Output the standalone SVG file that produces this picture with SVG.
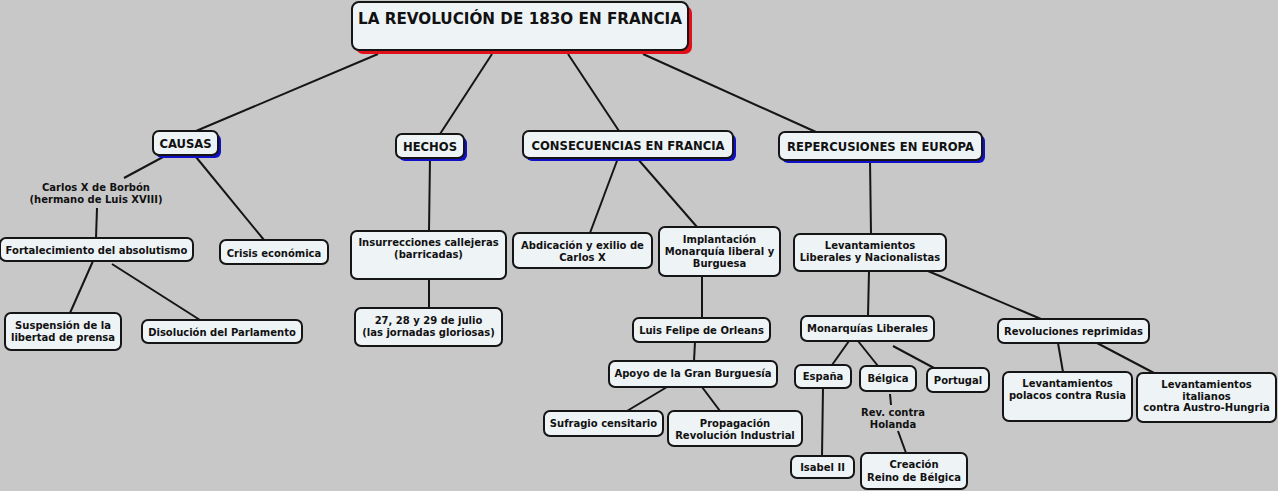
<svg xmlns="http://www.w3.org/2000/svg" width="1278" height="491" viewBox="0 0 1278 491">
<style>
.bg{fill:#c8c8c8}
.n{fill:#eef3f6;stroke:#151515;stroke-width:2}
.sb{fill:#1010c8}
.sr{fill:#e0101a}
text{font-family:"DejaVu Sans","Liberation Sans",sans-serif;font-weight:bold;font-size:10px;fill:#111;text-anchor:middle}
.t{font-size:15.2px}
.h{font-size:11.6px}
.c line{stroke:#151515;stroke-width:2}
</style>
<rect class="bg" x="0" y="0" width="1278" height="491"/>
<g class="c" id="connectors">
<line x1="378" y1="54" x2="196" y2="131"/>
<line x1="492" y1="54" x2="440" y2="134"/>
<line x1="568" y1="54" x2="619" y2="131"/>
<line x1="643" y1="54" x2="816" y2="132"/>
<line x1="163" y1="157" x2="124" y2="178"/>
<line x1="97" y1="208" x2="96" y2="238"/>
<line x1="196" y1="157" x2="264" y2="240"/>
<line x1="93" y1="261" x2="70" y2="313"/>
<line x1="112" y1="264" x2="200" y2="320"/>
<line x1="430" y1="158" x2="429" y2="231"/>
<line x1="429" y1="279" x2="429" y2="308"/>
<line x1="618" y1="158" x2="590" y2="233"/>
<line x1="637" y1="158" x2="697" y2="227"/>
<line x1="702" y1="276" x2="702" y2="318"/>
<line x1="695" y1="342" x2="694" y2="361"/>
<line x1="667" y1="387" x2="627" y2="411"/>
<line x1="702" y1="387" x2="720" y2="411"/>
<line x1="870" y1="160" x2="871" y2="234"/>
<line x1="869" y1="271" x2="868" y2="316"/>
<line x1="928" y1="271" x2="1041" y2="319"/>
<line x1="849" y1="341" x2="832" y2="365"/>
<line x1="858" y1="341" x2="878" y2="366"/>
<line x1="893" y1="346" x2="934" y2="368"/>
<line x1="1058" y1="343" x2="1063" y2="372"/>
<line x1="1097" y1="343" x2="1154" y2="373"/>
<line x1="823" y1="388" x2="822" y2="456"/>
<line x1="890" y1="394" x2="891" y2="405"/>
<line x1="898" y1="431" x2="906" y2="453"/>
</g>
<g id="title">
<rect class="sr" x="356" y="6" width="336" height="48" rx="7"/>
<rect class="n" x="352" y="2" width="336" height="48" rx="7"/>
<text class="t" x="520" y="24">LA REVOLUCIÓN DE 183O EN FRANCIA</text>
</g>
<g id="causas">
<rect class="sb" x="156" y="134" width="65" height="24" rx="6"/>
<rect class="n" x="153" y="131" width="65" height="24" rx="6"/>
<text class="h" x="185.5" y="147.5">CAUSAS</text>
</g>
<g id="hechos">
<rect class="sb" x="399" y="137" width="68" height="24" rx="6"/>
<rect class="n" x="396" y="134" width="68" height="24" rx="6"/>
<text class="h" x="430" y="150.5">HECHOS</text>
</g>
<g id="consecuencias">
<rect class="sb" x="526" y="134" width="210" height="27" rx="6"/>
<rect class="n" x="523" y="131" width="210" height="27" rx="6"/>
<text class="h" x="628" y="150">CONSECUENCIAS EN FRANCIA</text>
</g>
<g id="repercusiones">
<rect class="sb" x="782" y="135" width="203" height="28" rx="6"/>
<rect class="n" x="779" y="132" width="203" height="28" rx="6"/>
<text class="h" x="880.5" y="151">REPERCUSIONES EN EUROPA</text>
</g>
<g id="carlos">
<text x="96" y="191">Carlos X de Borbón</text>
<text x="96" y="203">(hermano de Luis XVIII)</text>
</g>
<g id="fortalecimiento">
<rect class="n" x="0" y="238" width="193" height="23" rx="6"/>
<text x="96.5" y="253.5">Fortalecimiento del absolutismo</text>
</g>
<g id="crisis">
<rect class="n" x="220" y="240" width="108" height="24" rx="6"/>
<text x="274" y="256.5">Crisis económica</text>
</g>
<g id="suspension">
<rect class="n" x="5" y="313" width="116" height="37" rx="6"/>
<text x="63" y="329">Suspensión de la</text>
<text x="63" y="341">libertad de prensa</text>
</g>
<g id="disolucion">
<rect class="n" x="142" y="320" width="160" height="23" rx="6"/>
<text x="222" y="335.5">Disolución del Parlamento</text>
</g>
<g id="insurrecciones">
<rect class="n" x="351" y="231" width="155" height="48" rx="6"/>
<text x="428.5" y="246">Insurrecciones callejeras</text>
<text x="428.5" y="258">(barricadas)</text>
</g>
<g id="julio">
<rect class="n" x="355" y="308" width="147" height="38" rx="6"/>
<text x="428.5" y="324">27, 28 y 29 de julio</text>
<text x="428.5" y="336">(las jornadas gloriosas)</text>
</g>
<g id="abdicacion">
<rect class="n" x="513" y="233" width="139" height="35" rx="6"/>
<text x="582.5" y="249">Abdicación y exilio de</text>
<text x="582.5" y="261">Carlos X</text>
</g>
<g id="implantacion">
<rect class="n" x="659" y="227" width="121" height="49" rx="6"/>
<text x="719.5" y="243">Implantación</text>
<text x="719.5" y="255">Monarquía liberal y</text>
<text x="719.5" y="267">Burguesa</text>
</g>
<g id="luisfelipe">
<rect class="n" x="633" y="318" width="137" height="24" rx="6"/>
<text x="701.5" y="333.5">Luis Felipe de Orleans</text>
</g>
<g id="apoyo">
<rect class="n" x="609" y="361" width="168" height="26" rx="6"/>
<text x="693" y="377">Apoyo de la Gran Burguesía</text>
</g>
<g id="sufragio">
<rect class="n" x="544" y="411" width="119" height="25" rx="6"/>
<text x="603.5" y="427">Sufragio censitario</text>
</g>
<g id="propagacion">
<rect class="n" x="668" y="411" width="134" height="35" rx="6"/>
<text x="735" y="427">Propagación</text>
<text x="735" y="439">Revolución Industrial</text>
</g>
<g id="levantamientos">
<rect class="n" x="794" y="234" width="152" height="37" rx="6"/>
<text x="870" y="249">Levantamientos</text>
<text x="870" y="261">Liberales y Nacionalistas</text>
</g>
<g id="monarquias">
<rect class="n" x="801" y="316" width="133" height="25" rx="6"/>
<text x="867.5" y="332">Monarquías Liberales</text>
</g>
<g id="revoluciones">
<rect class="n" x="998" y="319" width="151" height="24" rx="6"/>
<text x="1073.5" y="334.5">Revoluciones reprimidas</text>
</g>
<g id="espana">
<rect class="n" x="795" y="365" width="56" height="23" rx="6"/>
<text x="823" y="380">España</text>
</g>
<g id="belgica">
<rect class="n" x="860" y="366" width="56" height="25" rx="6"/>
<text x="888" y="382">Bélgica</text>
</g>
<g id="portugal">
<rect class="n" x="927" y="368" width="62" height="24" rx="6"/>
<text x="958" y="383.5">Portugal</text>
</g>
<g id="holanda">
<text x="893" y="416">Rev. contra</text>
<text x="893" y="428">Holanda</text>
</g>
<g id="isabel">
<rect class="n" x="791" y="456" width="63" height="22" rx="6"/>
<text x="822.5" y="470.5">Isabel II</text>
</g>
<g id="creacion">
<rect class="n" x="861" y="453" width="106" height="36" rx="6"/>
<text x="914" y="468">Creación</text>
<text x="914" y="481">Reino de Bélgica</text>
</g>
<g id="polacos">
<rect class="n" x="1003" y="372" width="129" height="49" rx="6"/>
<text x="1067.5" y="387">Levantamientos</text>
<text x="1067.5" y="399">polacos contra Rusia</text>
</g>
<g id="italianos">
<rect class="n" x="1137" y="373" width="139" height="49" rx="6"/>
<text x="1206.5" y="388">Levantamientos</text>
<text x="1206.5" y="400">italianos</text>
<text x="1206.5" y="411">contra Austro-Hungria</text>
</g>
</svg>
